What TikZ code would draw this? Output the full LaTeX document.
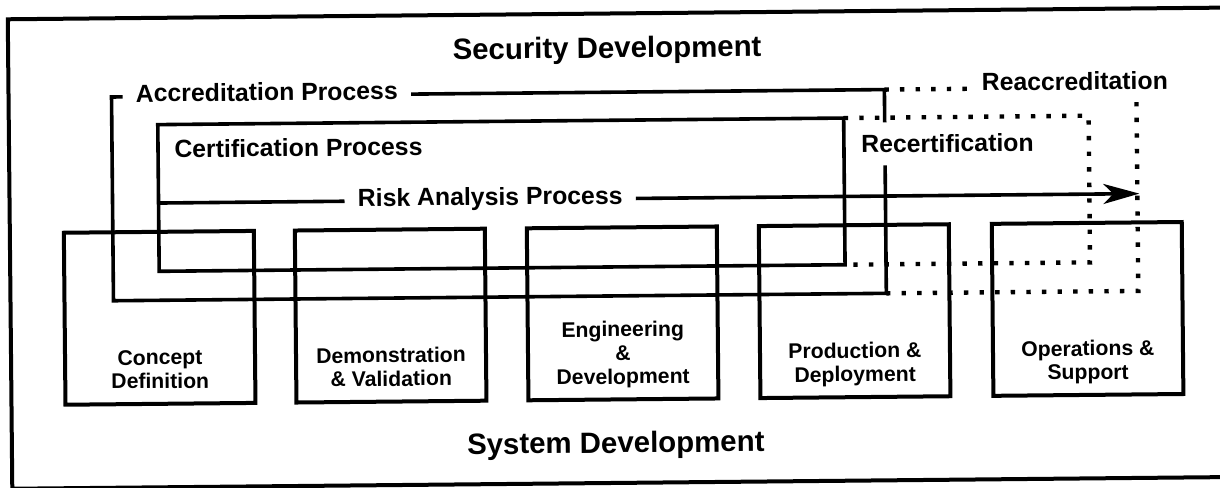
\documentclass[tikz,border=0pt]{standalone}
\usepackage{fontspec}
\setmainfont{Liberation Sans}
\usetikzlibrary{positioning}
\usetikzlibrary{arrows.meta}

\begin{document}
\begin{tikzpicture}[x=0.5pt, y=-0.5pt,
        phase/.style={draw, line width=2pt, minimum width=95pt, minimum height=86pt},
        phasetext/.style={font=\bfseries\fontsize{10.6}{11.8}\selectfont, align=center, inner sep=0pt, text depth=0pt},
        proctext/.style={font=\bfseries\fontsize{12.4}{14}\selectfont, inner xsep=6.5pt, inner ysep=6pt},
        title/.style={font=\bfseries\fontsize{14.7}{17}\selectfont},
        proc/.style={line width=1.8pt},
        dots/.style={line width=2.2pt, dash pattern=on 2.2pt off 5.6pt}]
            \useasboundingbox (0,0) rectangle (1220,487);
            \begin{scope}[rotate around={0.55:(610,250)}, transform shape]
            % Frame
            \draw[line width=2pt] (1240,13.5) -- (10,13.5) -- (10,483) -- (1240,483);
            
            % Titles
            \node[title, anchor=base] (secdev) at (609,58) {Security Development};
            \node[title, anchor=base] (sysdev) at (614,453) {System Development};
            
            % Phases
            \node[phase] (cd) at (159,313.5) {};
            \node[phasetext, above=8.5pt of cd.south] {Concept\\Definition};
            \node[phase] (dv) at (390,313.5) {};
            \node[phasetext, above=8.5pt of dv.south] {Demonstration\\\& Validation};
            \node[phase] (ed) at (622,313.5) {};
            \node[phasetext, above=8.5pt of ed.south] {Engineering\\\&\\Development};
            \node[phase] (pd) at (854,313.5) {};
            \node[phasetext, above=8.5pt of pd.south] {Production \&\\Deployment};
            \node[phase] (os) at (1087,313.5) {};
            \node[phasetext, above=8.5pt of os.south] {Operations \&\\Support};
            
            % Process labels
            \node[proctext, anchor=base west] (acc) at (124,97.5) {Accreditation Process};
            \node[proctext, anchor=base west] (cert) at (162,153.5) {Certification Process};
            \node[proctext, anchor=base west] (risk) at (345,204) {Risk Analysis Process};
            \node[proctext, anchor=base west] (recert) at (849,155.3) {Recertification};
            \node[proctext, anchor=base west] (reacc) at (970,94.5) {Reaccreditation};
            
            % Accreditation
            \coordinate (accSW) at (113,296);
            \coordinate (accSE) at (886,296);
            \coordinate (reaccSE) at (1138,296);
            \draw[proc] (acc.mid west) -| (accSW) -- (accSE) -- (recert.south -| accSE);
            \draw[proc] (recert.north -| accSE) |- (acc.mid east);
            \draw[dots] (acc.mid east -| accSE) -- (acc.mid east -| reacc.west);
            \draw[dots] (reacc.south -| reaccSE) -- (reaccSE) -- (accSE);
            
            % Certification
            \coordinate (certNW) at (159,120.3);
            \coordinate (certNE) at (845,120.3);
            \coordinate (certSE) at (845,267);
            \coordinate (recertNE) at (1090,120.3);
            \coordinate (recertSE) at (1090,267);
            \draw[proc] (certNW) rectangle (certSE);
            \draw[dots] (certNE) -- (recertNE) -- (recertSE) -- (certSE);
            
            % Risk analysis
            \coordinate (riskTip) at (1140,198);
            \draw[proc] (risk.mid west -| certNW) -- (risk.mid west);
            \draw[proc, -{Stealth[length=18pt, width=10pt, inset=5pt]}] (risk.mid east) -- (risk.mid east -| riskTip);
            \end{scope}
        \end{tikzpicture}
\end{document}
